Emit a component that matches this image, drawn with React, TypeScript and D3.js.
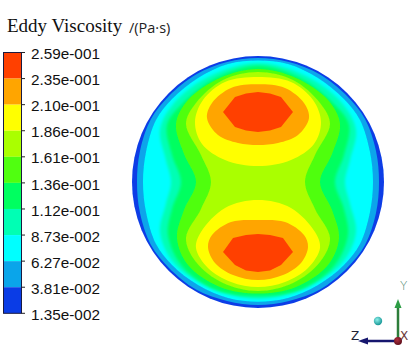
import React from "react";
import * as d3 from "d3";

type P = [number, number];

const tickLabels = ["2.59e-001","2.35e-001","2.10e-001","1.86e-001","1.61e-001","1.36e-001","1.12e-001","8.73e-002","6.27e-002","3.81e-002","1.35e-002"];
const bandColors = ["#ff4000","#ffa500","#ffff00","#aaff00","#50ff10","#00ff60","#00ffb4","#00ffff","#0aa5ea","#0a3ce6"];

const sectionRadius = 126;
// Contour lines: half-width from the axis, height above the centre, top to bottom.
const lightBlueEdge: P[] = [[0,124],[31,120],[62,107.5],[89,86],[107,63],[118,31],[121,0],[118,-31],[107,-63],[89,-86],[62,-107.5],[31,-119],[0,-123]];
const cyanEdge: P[] = [[0,121.5],[30,118],[60,104],[86,83],[102,62],[112,30],[115,0],[112,-30],[102,-62],[86,-83],[60,-103],[30,-116],[0,-119.7]];
const tealEdge: P[] = [[0,119],[48,106],[84,79],[98,52],[92,22],[87,0],[92,-22],[98,-50],[84,-81],[48,-105],[0,-116.7]];
const greenEdge: P[] = [[0,116],[42,104],[74,80],[91,57],[86,27],[77,0],[86,-27],[90,-53],[76,-84],[42,-108],[0,-114]];
const limeEdge: P[] = [[0,113],[38,104],[70,82],[82,58],[74,28],[62,0],[74,-28],[81,-56],[70,-83],[38,-105],[0,-111.5]];
const yellowGreenEdge: P[] = [[0,110],[35,102],[62,79],[72,58],[57,27],[47,0],[57,-27],[72,-56],[62,-80],[35,-101],[0,-109]];
const yellowUpper: P[] = [[0,105],[33,100],[55,82],[63,60],[56,38],[33,22],[0,16]];
const yellowLower: P[] = [[0,-18],[33,-26],[57,-50],[62,-66],[50,-86],[27,-100],[0,-105]];
const orangeUpper: P[] = [[0,97.7],[27,94],[46,79],[51,64],[40,47],[20,39],[0,37]];
const orangeLower: P[] = [[0,-38],[27,-40],[46,-53],[50,-65],[43,-81],[25,-93],[0,-98]];
const redUpper: P[] = [[0,90],[12,88.5],[23,85],[35,70],[23,55],[12,51.5],[0,50]];
const redLower: P[] = [[0,-52],[12,-53],[25,-56],[35,-70],[23,-83],[12,-88.5],[0,-90]];

const contourBands: { pts: P[]; color: string; sharp?: boolean; faded?: boolean }[] = [
  { pts: lightBlueEdge, color: bandColors[8] },
  { pts: cyanEdge, color: bandColors[7] },
  { pts: tealEdge, color: bandColors[6], faded: true },
  { pts: greenEdge, color: bandColors[5], faded: true },
  { pts: limeEdge, color: bandColors[4] },
  { pts: yellowGreenEdge, color: bandColors[3] },
  { pts: yellowUpper, color: bandColors[2] },
  { pts: yellowLower, color: bandColors[2] },
  { pts: orangeUpper, color: bandColors[1] },
  { pts: orangeLower, color: bandColors[1] },
  { pts: redUpper, color: bandColors[0], sharp: true },
  { pts: redLower, color: bandColors[0], sharp: true },
];

const x = d3.scaleLinear().domain([-sectionRadius, sectionRadius]).range([132, 384]);
const y = d3.scaleLinear().domain([sectionRadius, -sectionRadius]).range([56, 308]);
const legendY = d3.scaleLinear().domain([0, 10]).range([52.5, 313.3]);

const smooth = d3.line<P>().x(d => x(d[0])).y(d => y(d[1])).curve(d3.curveCatmullRomClosed.alpha(0.5));
const sharp = d3.line<P>().x(d => x(d[0])).y(d => y(d[1])).curve(d3.curveLinearClosed);

const closeLoop = (half: P[]): P[] => [
  ...half,
  ...half.slice(1, -1).reverse().map(([a, b]): P => [-a, b]),
];

export default function App() {
  return (
    <svg width={418} height={353} style={{ position: "absolute", left: 0, top: 0, background: "#fff" }}>
      <defs>
        <radialGradient id="ball" cx="40%" cy="35%" r="70%">
          <stop offset="0%" stopColor="#8ff0ea" />
          <stop offset="100%" stopColor="#0d8f8f" />
        </radialGradient>
        <radialGradient id="origin" cx="40%" cy="35%" r="70%">
          <stop offset="0%" stopColor="#b03040" />
          <stop offset="100%" stopColor="#5a0c18" />
        </radialGradient>
        <filter id="soft" x="-5%" y="-5%" width="110%" height="110%">
          <feGaussianBlur stdDeviation="0.7" />
        </filter>
        <filter id="softer" x="-5%" y="-5%" width="110%" height="110%">
          <feGaussianBlur stdDeviation="1.8" />
        </filter>
      </defs>

      <text x={7} y={32} fontFamily="'Liberation Serif'" fontSize={19} fill="#111">Eddy Viscosity</text>
      <text x={129} y={33} fontFamily="'Open Sans'" fontSize={14.5} fill="#222">/(Pa·s)</text>

      {bandColors.map((c, i) => (
        <rect key={c} x={3.5} width={18} y={legendY(i)} height={legendY(i + 1) - legendY(i)} fill={c} />
      ))}
      <rect x={3.5} y={legendY(0)} width={18} height={legendY(10) - legendY(0)} fill="none" stroke="#1a1a40" strokeWidth={1} />
      {tickLabels.map((t, i) => (
        <g key={t}>
          <line x1={21.5} x2={25} y1={legendY(i)} y2={legendY(i)} stroke="#222" />
          <text x={31} y={legendY(i) + 6.6} fontFamily="'Liberation Sans'" fontSize={15.3} fill="#111">{t}</text>
        </g>
      ))}

      <g filter="url(#soft)">
        <circle cx={x(0)} cy={y(0)} r={x(sectionRadius) - x(0)} fill={bandColors[9]} />
        {contourBands.map((b, i) => (
          <path key={i} d={(b.sharp ? sharp : smooth)(closeLoop(b.pts)) ?? ""} fill={b.color} filter={b.faded ? "url(#softer)" : undefined} />
        ))}
      </g>

      <line x1={398} y1={341} x2={398} y2={306} stroke="#2d7d3a" strokeWidth={2.5} />
      <path d="M398 299 L394.5 308 L401.5 308 Z" fill="#2d9d45" />
      <line x1={398} y1={341} x2={366} y2={341} stroke="#16166e" strokeWidth={2.5} />
      <path d="M358 341 L368 337.5 L368 344.5 Z" fill="#16166e" />
      <circle cx={398} cy={341} r={4} fill="url(#origin)" />
      <circle cx={378} cy={321} r={4.2} fill="url(#ball)" />
      <text x={400} y={290} fontFamily="'DejaVu Sans'" fontSize={12} fontWeight={200} fill="#4f8a70">Y</text>
      <text x={351} y={340} fontFamily="'DejaVu Sans'" fontSize={12} fill="#223">Z</text>
      <text x={400} y={340} fontFamily="'DejaVu Sans'" fontSize={12} fill="#6a3a3a">X</text>
    </svg>
  );
}
